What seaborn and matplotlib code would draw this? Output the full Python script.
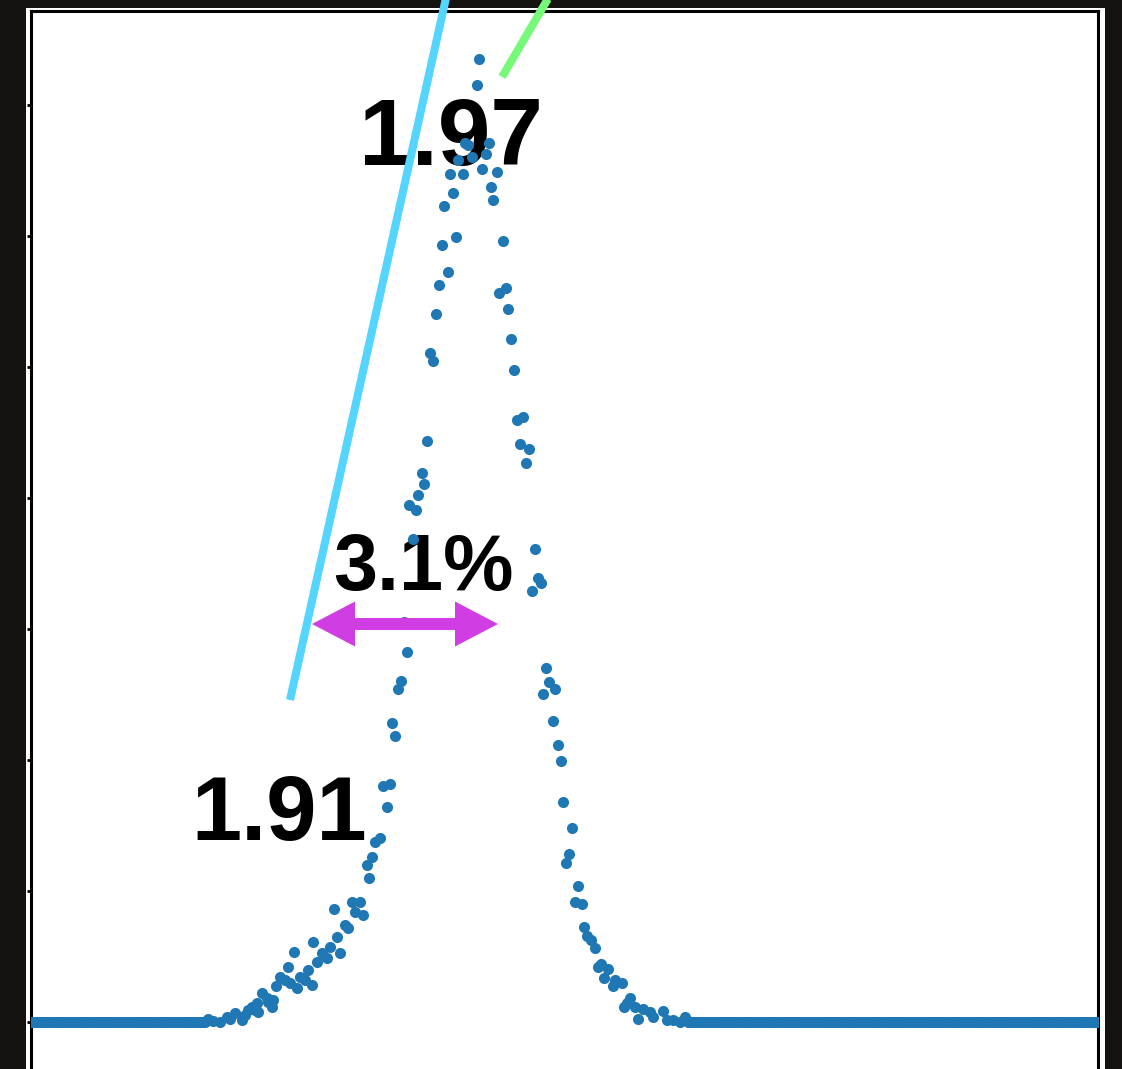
import numpy as np
import pandas as pd
import matplotlib
matplotlib.use("Agg")
import matplotlib.pyplot as plt
from matplotlib.patches import Rectangle, FancyArrow
import seaborn as sns

# Spectrum samples (channel, counts) across the emission peak
tail_left_x = [178, 183, 190, 197, 200, 205, 212, 215, 218, 222, 225, 228, 227, 232, 237, 238,
               242, 243, 246, 250, 255, 258, 260, 264, 267, 270, 275, 278, 282, 283, 287, 292,
               297, 300, 304, 307, 310, 315, 318, 322, 325, 330, 333, 337, 339, 342, 345, 350,
               353, 357, 360]
tail_left_y = [3, 1, 0, 5, 3, 9, 2, 7, 12, 15, 12, 10, 19, 29, 24, 20,
               15, 22, 36, 45, 42, 55, 39, 70, 34, 45, 42, 52, 37, 80, 60, 69,
               64, 75, 113, 85, 69, 97, 94, 120, 110, 120, 107, 157, 144, 165, 180, 184,
               236, 215, 238]

rise_x = [362, 365, 368, 371, 374, 377, 379, 383, 386, 388, 392, 394, 397, 400, 403, 406,
          409, 412, 414, 418, 420, 423, 426, 428, 433, 435, 438, 442, 447, 449, 452, 456,
          459, 461, 463, 467]
rise_y = [299, 286, 333, 341, 400, 370, 517, 483, 512, 527, 549, 538, 581, 669, 661, 708,
          737, 777, 816, 750, 848, 829, 785, 862, 848, 879, 877, 865, 937, 963, 853, 868,
          879, 835, 822, 850]

fall_x = [469, 473, 476, 478, 481, 484, 487, 490, 493, 496, 499, 502, 505, 508, 511, 513,
          516, 519, 523, 525, 528, 531, 533, 536, 539, 542, 545, 548, 552, 554, 557, 561,
          565, 568, 571, 574, 578, 583, 585, 592, 594, 597, 600, 605, 608, 613, 620, 623,
          633, 637, 643, 650, 655]
fall_y = [729, 781, 734, 713, 683, 652, 602, 578, 605, 559, 573, 431, 473, 444, 439, 328,
          354, 340, 301, 333, 277, 261, 220, 159, 168, 194, 120, 136, 118, 95, 86, 82,
          74, 55, 58, 44, 53, 36, 42, 39, 15, 19, 24, 15, 3, 13, 10, 5,
          11, 2, 2, 0, 5]

# Flat background on both sides of the peak (zero counts)
flat_left_x = np.arange(-4.0, 177.0, 2.6)
flat_right_x = np.arange(658.0, 1072.0, 2.6)

# Annotations
label_low = "1.91"
label_high = "1.97"
label_width = "3.1%"
fwhm_ends = [282, 468]
fwhm_level = 398
cyan_line_x = [260, 420]
cyan_line_y = [322, 1042]
green_line_x = [472, 529]
green_line_y = [945, 1042]

df = pd.DataFrame({
    "channel": np.concatenate([flat_left_x, tail_left_x, rise_x, fall_x, flat_right_x]),
    "counts": np.concatenate([np.zeros(len(flat_left_x)), tail_left_y, rise_y, fall_y,
                              np.zeros(len(flat_right_x))]),
})

W, H = 1122, 1069
fig = plt.figure(figsize=(W / 100, H / 100), dpi=100, facecolor="#141311")

# white mount behind the plotting frame
mount = fig.add_axes([26.5 / W, -0.05, (1105 - 26.5) / W, 1.05 - 8 / H], zorder=-5)
mount.set_facecolor("white")
mount.set_axis_off()
mount.add_patch(Rectangle((0, 0), 1, 1, transform=mount.transAxes,
                          facecolor="white", edgecolor="none"))

ax_left, ax_right = 30.5, 1098.0
ax_top, ax_bottom = 11.3, 1100.0
ax = fig.add_axes([ax_left / W, 1 - ax_bottom / H, (ax_right - ax_left) / W,
                   (ax_bottom - ax_top) / H], zorder=1)
ax.set_facecolor("white")
ax.set_xlim(0.5, 1068.0)
ax.set_ylim(1022 - ax_bottom, 1022 - ax_top)

sns.scatterplot(data=df, x="channel", y="counts", ax=ax, color="#1f77b4",
                s=64, linewidth=0, zorder=3, legend=False)

for sp in ax.spines.values():
    sp.set_linewidth(2.2)
    sp.set_color("black")
ax.set_yticks(np.arange(0, 1000, 131))
ax.set_xticks([])
ax.tick_params(axis="y", direction="out", length=3, width=2.0, labelleft=False)
ax.set_xlabel("")
ax.set_ylabel("")

txt = dict(family="Liberation Sans", weight="bold", color="black", zorder=1,
           ha="center", va="baseline")
ax.text(421, 857, label_high, fontsize=68, **txt)
ax.text(249, 182, label_low, fontsize=65, **txt)
ax.text(393, 432, label_width, fontsize=57, **txt)

# FWHM double arrow
mid = (fwhm_ends[0] + fwhm_ends[1]) / 2
for end in fwhm_ends:
    ax.add_patch(FancyArrow(mid, fwhm_level, end - mid, 0, width=12, head_width=45,
                            head_length=43, length_includes_head=True,
                            color="#cf3de3", linewidth=0, zorder=4))

ax.plot(cyan_line_x, cyan_line_y, color="#55d5fd", lw=5.8, solid_capstyle="butt",
        clip_on=False, zorder=5)
ax.plot(green_line_x, green_line_y, color="#76f878", lw=5.8, solid_capstyle="butt",
        clip_on=False, zorder=5)

fig.savefig("out.png", dpi=100, facecolor=fig.get_facecolor())
